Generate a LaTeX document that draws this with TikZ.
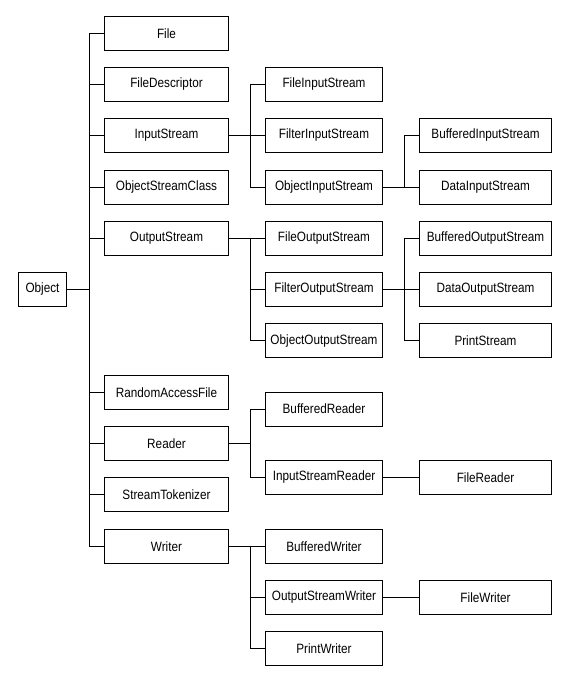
\documentclass[tikz,border=0pt]{standalone}
\usepackage{fontspec}
\setmainfont{Liberation Sans}[FakeStretch=0.87]
\begin{document}
\begin{tikzpicture}[x=1pt,y=-1pt,line width=1pt,
  box/.style={draw,rectangle,inner sep=0pt,minimum height=34pt,font=\fontsize{13.5}{16}\selectfont},
  c1/.style={box,minimum width=124pt},
  c2/.style={box,minimum width=117pt},
  c3/.style={box,minimum width=132pt}]
\fill[white] (0,0) rectangle (578,685);
\useasboundingbox (0,0) rectangle (578,685);
% root
\node[box,minimum width=48pt] (Obj) at (42.5,289.3) {Object};
% column 1
\node[c1] (File) at (166.5,33.3) {File};
\node[c1] (FD) at (166.5,84.3) {FileDescriptor};
\node[c1] (IS) at (166.5,135.3) {InputStream};
\node[c1] (OSC) at (166.5,187.3) {ObjectStreamClass};
\node[c1] (OS) at (166.5,238.3) {OutputStream};
\node[c1] (RAF) at (166.5,392.3) {RandomAccessFile};
\node[c1] (Rd) at (166.5,443.3) {Reader};
\node[c1] (ST) at (166.5,494.3) {StreamTokenizer};
\node[c1] (Wr) at (166.5,546.3) {Writer};
% column 2
\node[c2] (FIS) at (324,84.3) {FileInputStream};
\node[c2] (FltIS) at (324,135.3) {FilterInputStream};
\node[c2] (OIS) at (324,187.3) {ObjectInputStream};
\node[c2] (FOS) at (324,238.3) {FileOutputStream};
\node[c2] (FltOS) at (324,289.5) {FilterOutputStream};
\node[c2] (OOS) at (324,340.7) {ObjectOutputStream};
\node[c2] (BR) at (324,409) {BufferedReader};
\node[c2] (ISR) at (324,477.3) {InputStreamReader};
\node[c2] (BW) at (324,546.3) {BufferedWriter};
\node[c2] (OSW) at (324,597.3) {OutputStreamWriter};
\node[c2] (PW) at (324,648.3) {PrintWriter};
% column 3
\node[c3] (BIS) at (485.5,135.3) {BufferedInputStream};
\node[c3] (DIS) at (485.5,187.3) {DataInputStream};
\node[c3] (BOS) at (485.5,238.3) {BufferedOutputStream};
\node[c3] (DOS) at (485.5,289.5) {DataOutputStream};
\node[c3] (PS) at (485.5,340.7) {PrintStream};
\node[c3] (FR) at (485.5,477.3) {FileReader};
\node[c3] (FW) at (485.5,597.3) {FileWriter};
% trunk
\coordinate (trunk) at (89.5,0);
\draw (Obj.east) -- (Obj.east -| trunk);
\draw (File.west) -- (File.west -| trunk) -- (Wr.west -| trunk) -- (Wr.west);
\foreach \n in {FD,IS,OSC,OS,RAF,Rd,ST}{\draw (\n.west) -- (\n.west -| trunk);}
% InputStream
\draw (IS.east) -- (FltIS.west);
\draw (FIS.west) -- ++(-15,0) |- (OIS.west);
% ObjectInputStream
\draw (OIS.east) -- (DIS.west);
\draw (BIS.west) -- ++(-15,0) |- (DIS.west);
% OutputStream
\draw (OS.east) -- (FOS.west);
\draw (FOS.west) -- ++(-15,0) |- (OOS.west);
\draw (FltOS.west) -- ++(-15,0);
% FilterOutputStream
\draw (FltOS.east) -- (DOS.west);
\draw (BOS.west) -- ++(-15,0) |- (PS.west);
% Reader
\coordinate (b2) at (250.5,0);
\draw (Rd.east) -- (Rd.east -| b2);
\draw (BR.west) -- ++(-15,0) |- (ISR.west);
\draw (ISR.east) -- (FR.west);
% Writer
\draw (Wr.east) -- (BW.west);
\draw (BW.west) -- ++(-15,0) |- (PW.west);
\draw (OSW.west) -- ++(-15,0);
\draw (OSW.east) -- (FW.west);
\end{tikzpicture}
\end{document}
